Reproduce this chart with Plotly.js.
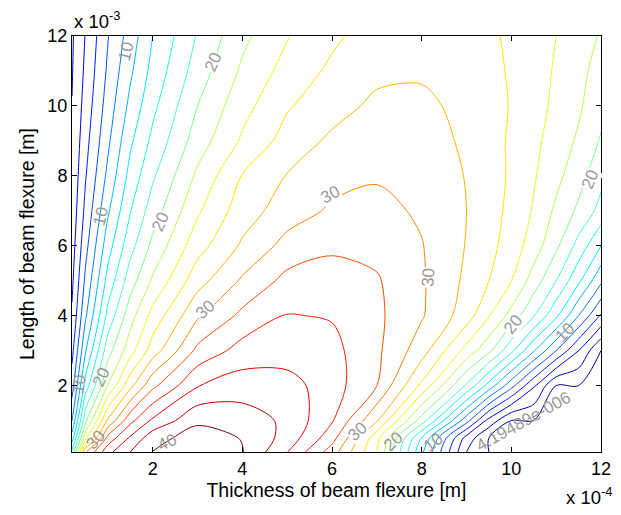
<!DOCTYPE html>
<html>
<head>
<meta charset="utf-8">
<script src="https://cdn.plot.ly/plotly-3.0.1.min.js"></script>
<style>html,body{margin:0;padding:0;background:#fff;}#chart{width:621px;height:515px;}</style>
</head>
<body>
<div id="chart"></div>
<script>
// Thickness of beam flexure, units of 1e-4 m
var thicknessE4 = [0.2, 0.5, 1, 1.5, 2, 3, 4, 5, 6, 7, 8, 9, 9.5, 10, 10.5, 11, 11.5, 12];
// Length of beam flexure, units of 1e-3 m
var lengthE3 = [0.1, 0.5, 1, 2, 3, 4, 5, 6, 7, 8, 9, 10, 11, 12];

// Values, one row per length
var zL01 = [16.4, 29.8, 35.4, 38.0, 40.1, 41.2, 40.1, 36.05, 31.0, 24.0, 12.4, 2.0, 0, 0, 0, 0, 0, 0];
var zL05 = [13.0, 23.4, 32.7, 36.3, 39.2, 41.0, 39.9, 37.25, 32.8, 24.7, 13.9, 3.2, 0, 0, 0, 0, 0, 0];
var zL1  = [9.95, 19.5, 28.3, 33.4, 36.35, 39.6, 39.0, 37.6, 34.2, 28.2, 19.0, 8.8, 3.3, 0, 0, 0, 0, 0];
var zL2  = [7.0, 14.9, 22.1, 27.4, 31.5, 35.9, 37.0, 36.8, 34.9, 32.0, 25.6, 17.7, 13.2, 8.7, 4.3, 0, 0, 0];
var zL3  = [5.4, 11.8, 19.2, 23.2, 27.0, 32.5, 34.8, 35.0, 34.6, 32.4, 28.9, 23.3, 20.5, 16.5, 12.2, 8.0, 4.0, 0];
var zL4  = [4.25, 9.7, 16.6, 21.2, 24.7, 29.7, 32.5, 34.1, 33.85, 32.4, 30.2, 27.0, 24.1, 21.3, 18.1, 14.4, 10.0, 5.8];
var zL5  = [3.6, 8.4, 14.7, 19.1, 22.3, 27.2, 30.3, 32.6, 33.0, 32.2, 30.24, 27.6, 26.0, 24.0, 21.1, 18.0, 14.4, 10.4];
var zL6  = [3.1, 7.35, 13.15, 17.3, 20.5, 25.2, 28.3, 30.7, 31.6, 31.4, 30.1, 27.9, 26.6, 25.1, 23.0, 20.4, 17.3, 14.0];
var zL7  = [2.7, 6.5, 11.7, 15.9, 19.0, 23.7, 27.05, 29.0, 30.3, 30.6, 29.7, 28.0, 26.8, 25.5, 23.8, 21.6, 19.6, 17.3];
var zL8  = [2.45, 5.85, 10.5, 14.7, 17.7, 22.4, 26.1, 28.1, 29.3, 29.8, 29.4, 27.9, 26.9, 25.7, 24.2, 22.55, 20.8, 18.6];
var zL9  = [2.2, 5.3, 9.6, 13.65, 16.5, 21.0, 24.3, 26.8, 28.4, 29.2, 29.1, 27.6, 26.7, 25.75, 24.5, 23.1, 21.7, 19.8];
var zL10 = [2.05, 4.8, 8.9, 12.55, 15.5, 20.0, 23.3, 25.8, 27.2, 28.45, 28.65, 27.2, 26.6, 25.9, 24.7, 23.6, 22.3, 20.6];
var zL11 = [1.87, 4.4, 8.33, 11.65, 14.65, 18.95, 22.35, 24.75, 26.4, 27.5, 27.6, 27.1, 26.5, 25.8, 24.8, 23.8, 22.6, 21.2];
var zL12 = [1.75, 4.1, 7.9, 10.9, 14.0, 18.2, 21.5, 23.9, 25.6, 27.0, 27.4, 27.0, 26.4, 25.6, 24.8, 24.0, 23.0, 21.8];

// Contour levels (MATLAB-style: minimum value, then every 2)
var minLevel = 4.19489e-6;
var levelStep = 2;
var maxLevel = 40;

// Contour label texts as printed by clabel
var labelTexts  = ['10', '10', '10', '10', '10', '20', '20', '20', '20', '20', '20', '30', '30', '30', '30', '30', '40', '4.19489e-006'];
// label placement (style, not data): [x (1e-4 m), y (1e-3 m), angle, gap]
var labelPlace = [
  [1.40, 11.57, -76, 0], [0.85, 6.83, -76, 0], [0.36, 2.03, -80, 0], [8.26, 0.37, -38, 0], [11.20, 3.51, -45, 0],
  [3.36, 11.26, -66, 1], [2.18, 6.69, -66, 1], [0.85, 2.23, -66, 0], [7.37, 0.40, -42, 0], [10.04, 3.74, -52, 1], [11.76, 7.89, -68, 1],
  [0.73, 0.46, -48, 0], [3.18, 4.17, -42, 1], [5.97, 7.46, -28, 1], [8.15, 5.09, -86, 1], [6.57, 0.69, -42, 1],
  [2.32, 0.36, -24, 0], [10.27, 0.97, -29, 0]
];

var Z = [zL01, zL05, zL1, zL2, zL3, zL4, zL5, zL6, zL7, zL8, zL9, zL10, zL11, zL12];
var colorLow = 0, colorHigh = maxLevel;

// MATLAB "jet" colormap
function jet(t) {
  function c(v){ return Math.round(255 * Math.max(0, Math.min(1, v))); }
  return 'rgb(' + c(1.5 - Math.abs(4*t - 3)) + ',' + c(1.5 - Math.abs(4*t - 2)) + ',' + c(1.5 - Math.abs(4*t - 1)) + ')';
}

var FONT = 'Liberation Sans, Arial, Helvetica, sans-serif';

// one single-level contour trace per level so each line gets its jet colour
var data = [];
for (var k = 0; k <= Math.round(maxLevel / levelStep); k++) {
  var level = k === 0 ? minLevel : k * levelStep;
  var col = jet((level - colorLow) / (colorHigh - colorLow));
  data.push({
    type: 'contour', x: thicknessE4, y: lengthE3, z: Z,
    colorscale: [[0, col], [1, col]], showscale: false,
    autocontour: false,
    contours: {start: level, end: level + 0.5, size: 1, coloring: 'lines', showlabels: false},
    line: {width: 1, smoothing: 0.9},
    hoverinfo: 'skip'
  });
}

var annotations = [
  {xref: 'paper', yref: 'paper', x: 0, y: 1, xanchor: 'left', yanchor: 'bottom', yshift: 2,
   text: 'x 10<sup>-3</sup>', showarrow: false, font: {family: FONT, size: 18.5, color: '#000'}},
  {xref: 'paper', yref: 'paper', x: 1, y: 0, xanchor: 'right', yanchor: 'top', xshift: 13, yshift: -30,
   text: 'x 10<sup>-4</sup>', showarrow: false, font: {family: FONT, size: 18.5, color: '#000'}}
];
labelTexts.forEach(function(t, i) {
  var p = labelPlace[i];
  annotations.push({xref: 'x', yref: 'y', x: p[0], y: p[1], textangle: p[2], text: t, showarrow: false,
    bgcolor: p[3] ? '#fff' : 'rgba(0,0,0,0)', borderpad: 0,
    font: {family: FONT, size: 17, color: '#999999'}});
});

var axisCommon = {
  ticks: 'inside', ticklen: 5, tickcolor: '#000', mirror: 'allticks',
  showline: true, linecolor: '#000', linewidth: 1, showgrid: false, zeroline: false,
  tickfont: {family: FONT, size: 18, color: '#000'}, tick0: 0, dtick: 2
};

var layout = {
  width: 621, height: 515,
  margin: {l: 72, r: 20, t: 36, b: 63},
  paper_bgcolor: '#fff', plot_bgcolor: '#fff',
  showlegend: false,
  xaxis: Object.assign({}, axisCommon, {range: [0.2, 12],
    title: {text: 'Thickness of beam flexure [m]', font: {family: FONT, size: 19.5, color: '#000'}, standoff: 3}}),
  yaxis: Object.assign({}, axisCommon, {range: [0.1, 12],
    title: {text: 'Length of beam flexure [m]', font: {family: FONT, size: 19.5, color: '#000'}, standoff: 7}}),
  annotations: annotations
};

Plotly.newPlot('chart', data, layout, {staticPlot: true, displayModeBar: false});
</script>
</body>
</html>
